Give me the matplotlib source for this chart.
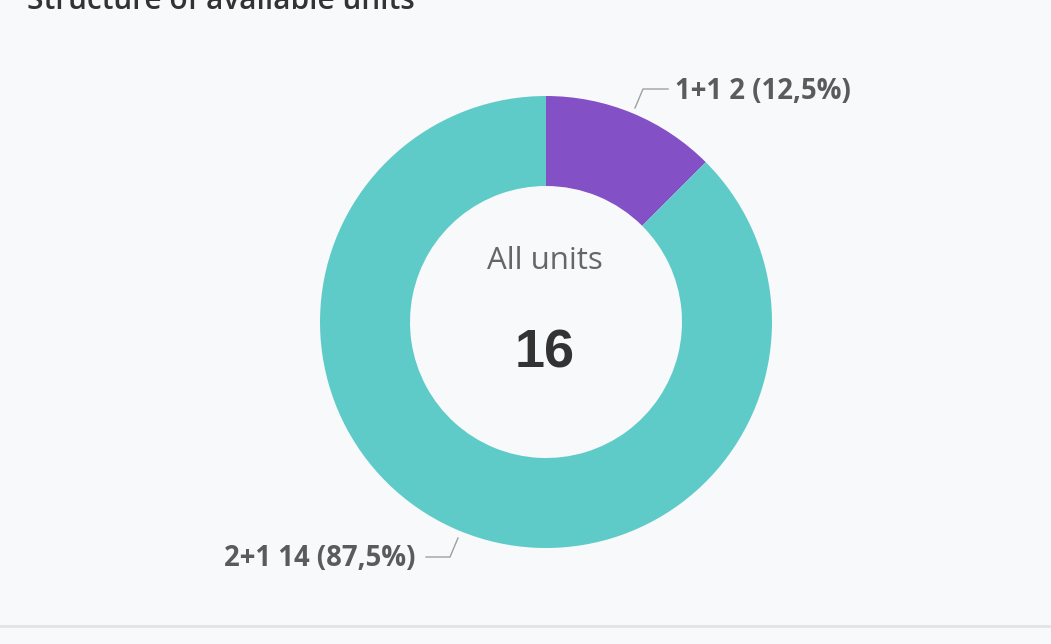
import matplotlib
matplotlib.use("Agg")
import matplotlib.pyplot as plt

categories = ["1+1", "2+1"]
values = [2, 14]
colors = ["#8350c6", "#5fcbc9"]
total_label = "All units"
title = "Structure of available units"

W, H = 1051, 644
fig = plt.figure(figsize=(W / 100, H / 100), dpi=100)
fig.patch.set_facecolor("#f8f9fb")
ax = fig.add_axes([0, 0, 1, 1])
ax.set_facecolor("#f8f9fb")

cx, cy, R = 546, H - 322, 226
ax.pie(values, colors=colors, startangle=90, counterclock=False,
       center=(cx, cy), radius=R, wedgeprops=dict(width=90, linewidth=0),
       frame=True)
ax.set_xlim(0, W)
ax.set_ylim(0, H)
ax.set_aspect("auto")
ax.axis("off")

total = sum(values)
lab_font = ["Open Sans", "DejaVu Sans"]
txt_col = "#5b5b5b"
line_col = "#a0a0a0"

# label 1 (upper right)
ax.plot([635, 643, 668], [H - 108, H - 89, H - 89], color=line_col, lw=1)
ax.text(675, H - 91, f"{categories[0]} {values[0]} ({values[0]/total*100:.1f}%)".replace(".", ","),
        ha="left", va="center", fontsize=19.8, fontweight="bold", color=txt_col, family=lab_font)
# label 2 (lower left)
ax.plot([458, 450, 426], [H - 538, H - 557, H - 557], color=line_col, lw=1)
ax.text(416, H - 558, f"{categories[1]} {values[1]} ({values[1]/total*100:.1f}%)".replace(".", ","),
        ha="right", va="center", fontsize=19.8, fontweight="bold", color=txt_col, family=lab_font)

ax.text(cx - 1, H - 261, total_label, ha="center", va="center", fontsize=22.5,
        fontweight="medium", color="#666666", family=lab_font)
ax.text(cx - 1, H - 353, str(total), ha="center", va="center", fontsize=39,
        fontweight="bold", color="#333333", family=["Liberation Sans", "DejaVu Sans"])

ax.text(27, H - 9, title, ha="left", va="baseline", fontsize=21.4, fontweight="semibold",
        color="#333333", family=lab_font)

ax.plot([0, W], [H - 626, H - 626], color="#e2e3e5", lw=2)

fig.savefig("out.png", dpi=100, facecolor=fig.get_facecolor())
